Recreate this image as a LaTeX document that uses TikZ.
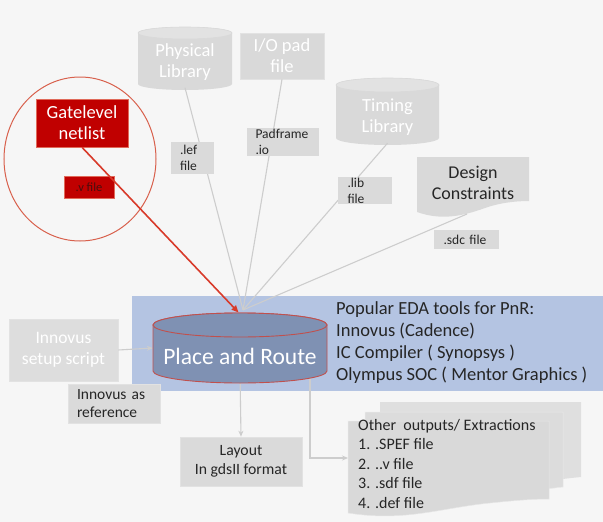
\documentclass[tikz,border=0pt]{standalone}
\usepackage{fontspec}
\setmainfont{Carlito}
\usetikzlibrary{arrows.meta,calc}
\definecolor{bg}{HTML}{F6F6F6}
\definecolor{faded}{HTML}{D9D9D9}
\definecolor{fadedtop}{HTML}{E2E2E2}
\definecolor{lbl}{HTML}{DADADA}
\definecolor{txt}{HTML}{262626}
\definecolor{redbox}{HTML}{C00000}
\definecolor{rededge}{HTML}{E06A5A}
\definecolor{redline}{HTML}{D83A2A}
\definecolor{circ}{HTML}{D8604C}
\definecolor{bluebg}{HTML}{B4C4E2}
\definecolor{cylfill}{HTML}{7F91B3}
\definecolor{cyledge}{HTML}{C0504D}
\definecolor{conn}{HTML}{CDCDCD}
\definecolor{vtext}{HTML}{4A0E0E}
\newcommand\cylshape[6]{%
  \path[#6] (#1-#4,#2+#5) -- (#1-#4,#3-#5)
    arc[start angle=180,end angle=0,x radius=#4,y radius=#5]
    -- (#1+#4,#2+#5)
    arc[start angle=0,end angle=-180,x radius=#4,y radius=#5] -- cycle;
}
\newcommand\cyltop[5]{%
  \path[#5] (#1,#2+#4) ellipse[x radius=#3,y radius=#4];
}
\tikzset{
  fadedbox/.style={fill=faded,draw=fadedtop,line width=0.6pt,text=white,font=\fontsize{18.5}{21}\selectfont,align=center,inner sep=0pt},
  fadedtext/.style={text=white,font=\fontsize{18.5}{21}\selectfont,align=center,inner sep=0pt},
  lblbox/.style={fill=lbl,draw=none,text=txt,font=\fontsize{13.5}{16}\selectfont,align=left,inner sep=0pt,text width=#1},
  graybox/.style={fill=lbl,draw=fadedtop,line width=0.6pt,text=txt,align=center,inner sep=0pt},
  feed/.style={draw=conn,line width=1.1pt},
  garrow/.style={draw=conn,line width=1.1pt,-{Stealth[length=6pt,width=5pt]}},
}
\begin{document}
\begin{tikzpicture}[x=1pt,y=-1pt]
\fill[bg] (0,0) rectangle (603,522);
\useasboundingbox (0,0) rectangle (603,522);

% blue panel
\fill[bluebg] (132,296) rectangle (603,391);

% hub where inputs meet
\coordinate (hub) at (243,310);

% input shapes (faded)
\cylshape{185}{27}{90}{47}{6}{fill=faded}
\cyltop{185}{27}{47}{6}{fill=fadedtop,draw=faded,line width=0.6pt}
\node[fadedtext,minimum width=94pt,minimum height=52pt] (phys) at (185,62.5) {Physical\\Library};

\node[fadedbox,minimum width=84pt,minimum height=46pt] (iopad) at (282,56) {I/O pad\\file};

\cylshape{387.5}{78}{145}{51.5}{7}{fill=faded}
\cyltop{387.5}{78}{51.5}{7}{fill=fadedtop,draw=faded,line width=0.6pt}
\node[fadedtext,minimum width=103pt,minimum height=54pt] (timing) at (387.5,117) {Timing\\Library};

% design constraints document shape
\path[fill=faded] (417,157) -- (529,157) -- (529,201)
  .. controls (515,201) and (500,203) .. (488,207)
  .. controls (468,214) and (445,222) .. (417,212) -- cycle;
\node[text=txt,font=\fontsize{18}{21}\selectfont,align=center,inner sep=0pt,minimum width=112pt,minimum height=44pt] (dc) at (473,182.5) {Design\\Constraints};

% connectors into the hub
\draw[feed] ($(phys.south)+(0,-1)$) -- (hub);
\draw[feed] (iopad.south) -- (hub);
\draw[feed] ($(timing.south)+(0,-1)$) -- (hub);
\draw[feed] (467,214) -- (hub);

% gatelevel netlist group
\draw[circ,line width=1pt] (80,159) ellipse[x radius=76,y radius=82];
\node[fill=redbox,draw=rededge,line width=0.6pt,text=white,font=\fontsize{18.5}{21}\selectfont,align=center,inner sep=0pt,minimum width=92pt,minimum height=48pt] (gate) at (82,123) {Gatelevel\\netlist};
\node[fill=redbox,draw=rededge,line width=0.5pt,text=vtext,font=\fontsize{12.5}{14}\selectfont,inner sep=0pt,minimum width=50pt,minimum height=22pt] (vfile) at (89,187) {.v file};
\draw[redline,line width=1.6pt,-{Triangle[length=7pt,width=6pt]}] (gate.south) -- (238.5,312.5);

% file labels on the connectors
\node[lblbox=25pt,minimum width=43pt,minimum height=32pt] (lef) at (192.5,158) {.lef\\file};
\node[lblbox=55pt,minimum width=72pt,minimum height=28pt] (pad) at (283,142) {Padframe\\.io};
\node[lblbox=35pt,minimum width=54pt,minimum height=27pt] (lib) at (365,190.5) {.lib\\file};
\node[lblbox=46pt,minimum width=65pt,minimum height=19pt] (sdc) at (466.5,239.5) {.sdc\ file};

% outputs stack
\path[fill=faded!85!white] (380,402) -- (581,402) -- (581,477) .. controls (560,479) and (540,482) .. (530,484) -- (380,484) -- cycle;
\path[fill=faded!92!white,draw=bg!60!faded,line width=0.5pt] (365,412) -- (563,412) -- (563,487) .. controls (545,489) and (525,492) .. (510,494) -- (365,494) -- cycle;
\path[fill=faded,draw=bg!50!faded,line width=0.5pt] (348,421) -- (549,421) -- (549,499)
  .. controls (530,499) and (510,501) .. (490,503)
  .. controls (440,508) and (405,522) .. (348,513) -- cycle;
\node[text=txt,font=\fontsize{16}{19.5}\selectfont,align=left,inner sep=0pt,anchor=north west] (outs) at (358,419) {Other\ \ outputs/ Extractions\\1. .SPEF file\\2. ..v file\\3. .sdf file\\4. .def file};
\coordinate (turn) at (310,458);

% place and route cylinder
\node[minimum width=174pt,minimum height=46pt,inner sep=0pt] (pnr) at (240,348) {};
\draw[garrow] (pnr.south) -- (pnr.south -| turn) -- (turn) -- (348,458);

\node[graybox,fill=faded!90!white,font=\fontsize{17.5}{21}\selectfont,text=white,minimum width=109pt,minimum height=62pt] (setup) at (63.5,350) {Innovus\\setup script};
\draw[garrow] (setup.east) -- (pnr.west);

\node[graybox,font=\fontsize{15.7}{18.5}\selectfont,minimum width=122pt,minimum height=49pt] (layout) at (241,461.5) {Layout\\In gdsII format};
\draw[garrow] (pnr.south) -- (layout.north);

\cylshape{240}{313}{383}{87}{12}{fill=cylfill,draw=cyledge,line width=0.9pt}
\cyltop{240}{313}{87}{12}{fill=cylfill,draw=cyledge,line width=0.9pt}
\node[text=white,font=\fontsize{23.5}{26}\selectfont,inner sep=0pt] (pnrtext) at (240,356) {Place and Route};

\node[graybox,align=left,font=\fontsize{15.5}{18}\selectfont,text width=74pt,minimum width=92pt,minimum height=39pt] (ref) at (114,403.5) {Innovus as\\reference};

% tools list
\node[text=txt,font=\fontsize{18.5}{22}\selectfont,align=left,inner sep=0pt,anchor=north west] (tools) at (336,301) {Popular EDA tools for PnR:\\Innovus (Cadence)\\IC Compiler ( Synopsys )\\Olympus SOC ( Mentor Graphics )};
\end{tikzpicture}
\end{document}
